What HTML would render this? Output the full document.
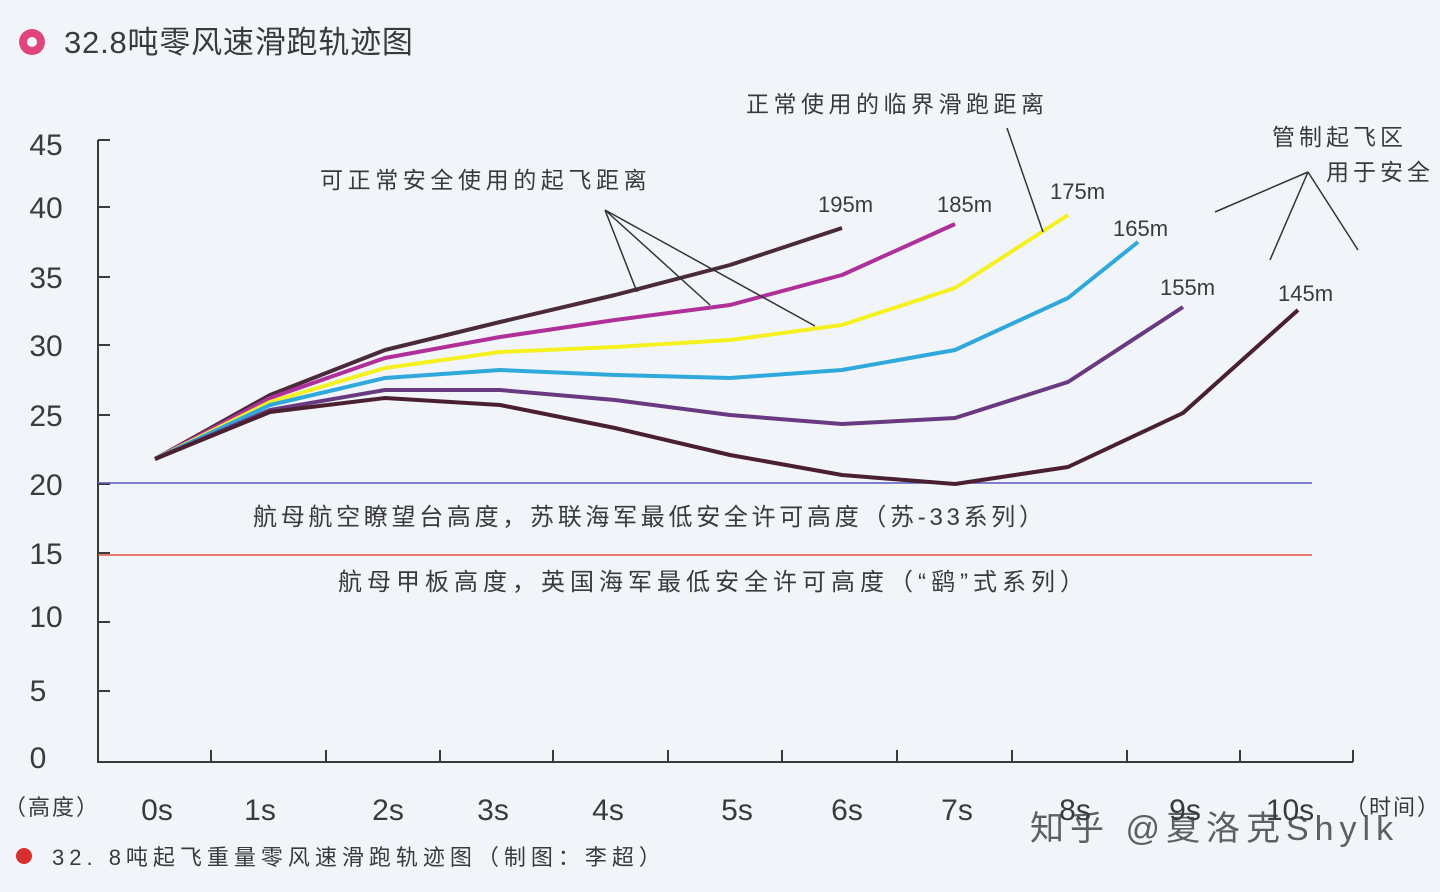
<!DOCTYPE html>
<html><head><meta charset="utf-8"><style>
html,body{margin:0;padding:0;width:1440px;height:892px;overflow:hidden;background:#f1f5f9;}
svg text{font-family:"Liberation Sans","Noto Sans CJK SC",sans-serif;fill:#3a3a3a;}
</style></head><body>
<svg width="1440" height="892" viewBox="0 0 1440 892" xmlns="http://www.w3.org/2000/svg">
<rect width="1440" height="892" fill="#f1f5f9"/>
<circle cx="32" cy="42" r="13" fill="#e0457e"/><circle cx="32" cy="42" r="5" fill="#f1f5f9"/>
<text x="64" y="53" font-size="31" fill="#444" letter-spacing="0.8">32.8吨零风速滑跑轨迹图</text>
<g stroke="#3a3a3a" stroke-width="2" fill="none">
<path d="M98,140 H110 M98,140 V762 H1353"/>
<path d="M98,207 H110 M98,277 H110 M98,345 H110 M98,415 H110 M98,484 H110 M98,553 H110 M98,622 H110 M98,691 H110"/>
<path d="M211,762 V750 M326,762 V750 M440,762 V750 M553,762 V750 M668,762 V750 M782,762 V750 M897,762 V750 M1012,762 V750 M1127,762 V750 M1240,762 V750 M1353,762 V750"/>
</g>
<g font-size="30" text-anchor="middle">
<text x="46" y="155">45</text><text x="46" y="218">40</text><text x="46" y="288">35</text><text x="46" y="356">30</text><text x="46" y="426">25</text><text x="46" y="495">20</text><text x="46" y="564">15</text><text x="46" y="627">10</text><text x="38" y="701">5</text><text x="38" y="768">0</text>
<text x="157" y="820">0s</text><text x="260" y="820">1s</text><text x="388" y="820">2s</text><text x="493" y="820">3s</text><text x="608" y="820">4s</text><text x="737" y="820">5s</text><text x="847" y="820">6s</text><text x="957" y="820">7s</text><text x="1075" y="820">8s</text><text x="1185" y="820">9s</text><text x="1290" y="820">10s</text>
</g>
<text x="4" y="815" font-size="22" letter-spacing="2">（高度）</text>
<text x="1345" y="815" font-size="22" letter-spacing="2">（时间）</text>
<line x1="98" y1="483" x2="1312" y2="483" stroke="#5a5ab8" stroke-width="1.5"/>
<line x1="98" y1="555" x2="1312" y2="555" stroke="#e05040" stroke-width="1.5"/>
<text x="253" y="525" font-size="24" letter-spacing="3.7">航母航空瞭望台高度，苏联海军最低安全许可高度（苏-33系列）</text>
<text x="338" y="590" font-size="24" letter-spacing="5">航母甲板高度，英国海军最低安全许可高度（“鹞”式系列）</text>
<g fill="none" stroke-width="4" stroke-linejoin="round">
<polyline stroke="#4a2a3a" points="155,459 270,395 385,350 500,322 615,295 730,265 842,228"/>
<polyline stroke="#b0309a" points="155,459 270,398 385,358 500,337 615,320 730,305 842,275 955,224"/>
<polyline stroke="#f5f020" points="155,459 270,402 385,368 500,352 615,347 730,340 842,325 955,288 1068,215"/>
<polyline stroke="#30a8dc" points="155,459 270,405 385,378 500,370 615,375 730,378 842,370 955,350 1068,298 1138,242"/>
<polyline stroke="#6a3a80" points="155,459 270,410 385,390 500,390 615,400 730,415 842,424 955,418 1068,382 1183,307"/>
<polyline stroke="#4a2030" points="155,459 270,412 385,398 500,405 615,428 730,455 842,475 955,484 1068,467 1183,413 1298,310"/>
</g>
<g stroke="#333" stroke-width="1.5">
<path d="M605,210 L637,292 M605,210 L710,305 M605,210 L815,326"/>
<path d="M1007,128 L1043,232"/>
<path d="M1308,172 L1215,212 M1308,172 L1270,260 M1308,172 L1358,250"/>
</g>
<g font-size="23">
<text x="320" y="188" letter-spacing="4.6">可正常安全使用的起飞距离</text>
<text x="746" y="112" letter-spacing="4.5">正常使用的临界滑跑距离</text>
<text x="1272" y="145" letter-spacing="4">管制起飞区</text>
<text x="1326" y="180" letter-spacing="4">用于安全</text>
<text x="818" y="212" font-size="22">195m</text>
<text x="937" y="212" font-size="22">185m</text>
<text x="1050" y="199" font-size="22">175m</text>
<text x="1113" y="236" font-size="22">165m</text>
<text x="1160" y="295" font-size="22">155m</text>
<text x="1278" y="301" font-size="22">145m</text>
</g>
<circle cx="24" cy="856" r="8" fill="#d83030"/>
<text x="52" y="865" font-size="22" letter-spacing="5" font-family="Liberation Serif,Noto Serif CJK SC,serif">32. 8吨起飞重量零风速滑跑轨迹图（制图：李超）</text>
<text x="1030" y="840" font-size="34" fill="#aaa" opacity="0.8" letter-spacing="6">知乎 @夏洛克Shylk</text>
</svg>
</body></html>
